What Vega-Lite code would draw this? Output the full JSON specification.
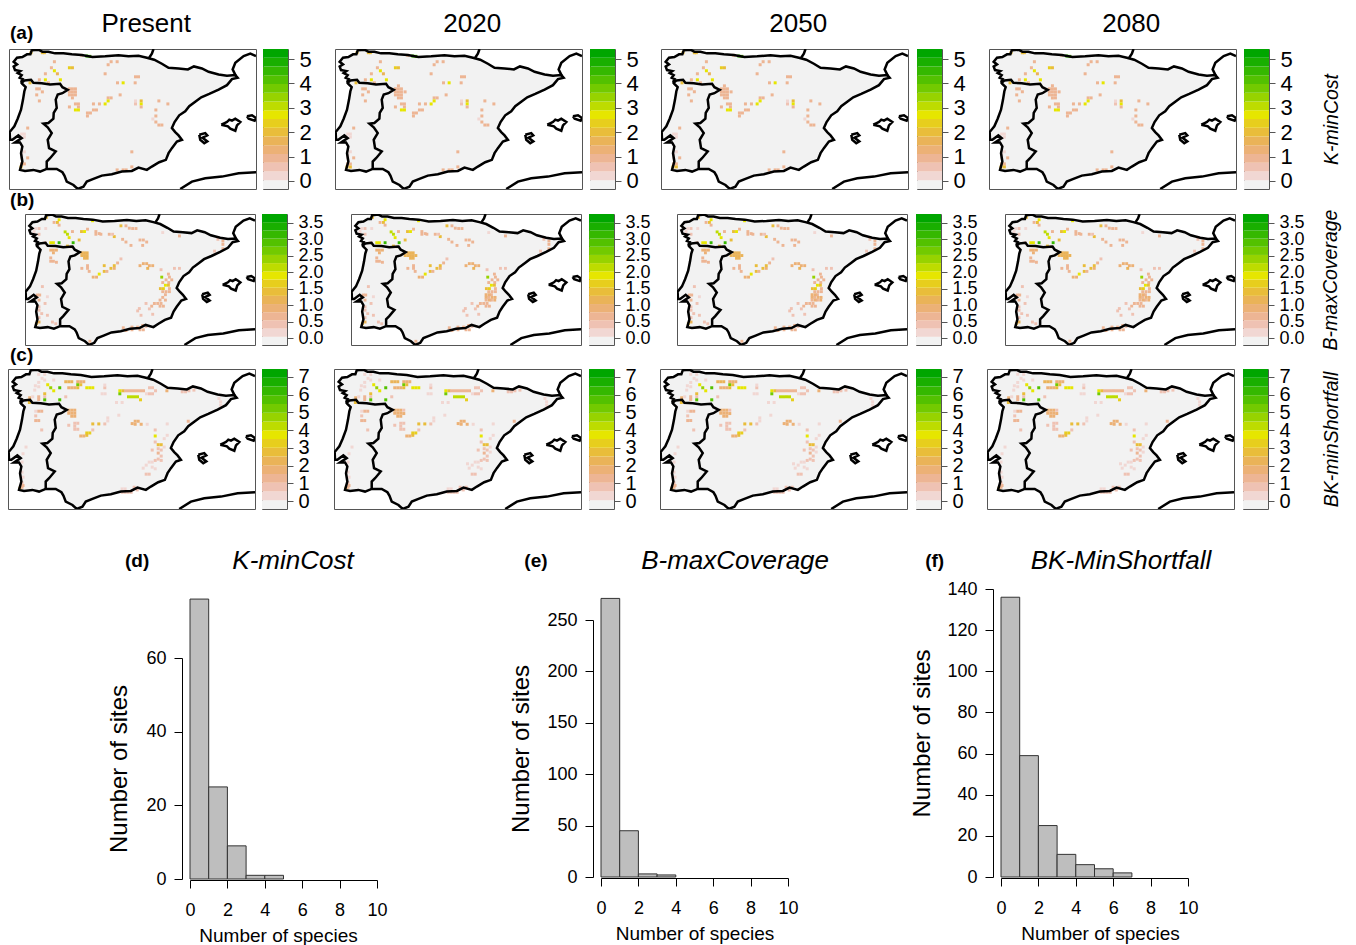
{"$schema":"https://vega.github.io/schema/vega-lite/v6.json","padding":{"left":4,"top":10,"right":0,"bottom":0},"background":"white","resolve":{"scale":{"color":"independent"}},"config":{"view":{"stroke":null},"axis":{"labelFont":"Liberation Sans","titleFont":"Liberation Sans","labelColor":"black","titleColor":"black","titleFontWeight":"normal","grid":false,"labelOverlap":false},"title":{"font":"Liberation Sans","fontWeight":"normal","color":"black","anchor":"middle"},"text":{"font":"Liberation Sans"}},
"datasets":{
"coast":[
{"s":"main","i":0,"x":48,"y":113},{"s":"main","i":1,"x":53,"y":104},{"s":"main","i":2,"x":44,"y":100},{"s":"main","i":3,"x":50,"y":92},{"s":"main","i":4,"x":38,"y":86},{"s":"main","i":5,"x":46,"y":80},{"s":"main","i":6,"x":30,"y":77},{"s":"main","i":7,"x":26,"y":66},{"s":"main","i":8,"x":36,"y":60},{"s":"main","i":9,"x":26,"y":52},{"s":"main","i":10,"x":36,"y":40},{"s":"main","i":11,"x":52,"y":38},{"s":"main","i":12,"x":66,"y":30},{"s":"main","i":13,"x":76,"y":30},{"s":"main","i":14,"x":80,"y":18},{"s":"main","i":15,"x":100,"y":16},{"s":"main","i":16,"x":112,"y":22},{"s":"main","i":17,"x":130,"y":22},{"s":"main","i":18,"x":150,"y":27},{"s":"main","i":19,"x":175,"y":27},{"s":"main","i":20,"x":200,"y":30},{"s":"main","i":21,"x":230,"y":32},{"s":"main","i":22,"x":262,"y":38},{"s":"main","i":23,"x":300,"y":36},{"s":"main","i":24,"x":340,"y":33},{"s":"main","i":25,"x":370,"y":36},{"s":"main","i":26,"x":400,"y":34},{"s":"main","i":27,"x":425,"y":40},{"s":"main","i":28,"x":447,"y":46},{"s":"main","i":29,"x":470,"y":58},{"s":"main","i":30,"x":490,"y":70},{"s":"main","i":31,"x":520,"y":72},{"s":"main","i":32,"x":548,"y":75},{"s":"main","i":33,"x":566,"y":66},{"s":"main","i":34,"x":590,"y":72},{"s":"main","i":35,"x":610,"y":82},{"s":"main","i":36,"x":640,"y":90},{"s":"main","i":37,"x":665,"y":94},{"s":"main","i":38,"x":690,"y":92},{"s":"main","i":39,"x":697,"y":100},{"s":"main","i":40,"x":680,"y":104},{"s":"main","i":41,"x":665,"y":122},{"s":"main","i":42,"x":640,"y":135},{"s":"main","i":43,"x":612,"y":148},{"s":"main","i":44,"x":588,"y":158},{"s":"main","i":45,"x":572,"y":170},{"s":"main","i":46,"x":552,"y":185},{"s":"main","i":47,"x":540,"y":200},{"s":"main","i":48,"x":522,"y":212},{"s":"main","i":49,"x":508,"y":232},{"s":"main","i":50,"x":500,"y":250},{"s":"main","i":51,"x":510,"y":262},{"s":"main","i":52,"x":520,"y":272},{"s":"main","i":53,"x":530,"y":285},{"s":"main","i":54,"x":515,"y":290},{"s":"main","i":55,"x":500,"y":310},{"s":"main","i":56,"x":490,"y":325},{"s":"main","i":57,"x":482,"y":345},{"s":"main","i":58,"x":462,"y":352},{"s":"main","i":59,"x":440,"y":365},{"s":"main","i":60,"x":425,"y":375},{"s":"main","i":61,"x":400,"y":368},{"s":"main","i":62,"x":380,"y":378},{"s":"main","i":63,"x":350,"y":380},{"s":"main","i":64,"x":320,"y":388},{"s":"main","i":65,"x":290,"y":392},{"s":"main","i":66,"x":265,"y":402},{"s":"main","i":67,"x":245,"y":410},{"s":"main","i":68,"x":235,"y":425},{"s":"main","i":69,"x":218,"y":432},{"s":"main","i":70,"x":205,"y":420},{"s":"main","i":71,"x":185,"y":410},{"s":"main","i":72,"x":178,"y":392},{"s":"main","i":73,"x":172,"y":382},{"s":"main","i":74,"x":155,"y":372},{"s":"main","i":75,"x":125,"y":372},{"s":"main","i":76,"x":105,"y":380},{"s":"main","i":77,"x":85,"y":375},{"s":"main","i":78,"x":60,"y":378},{"s":"main","i":79,"x":45,"y":375},{"s":"main","i":80,"x":52,"y":350},{"s":"main","i":81,"x":48,"y":325},{"s":"main","i":82,"x":52,"y":305},{"s":"main","i":83,"x":45,"y":293},{"s":"main","i":84,"x":30,"y":293},{"s":"main","i":85,"x":50,"y":280},{"s":"main","i":86,"x":40,"y":272},{"s":"main","i":87,"x":22,"y":285},{"s":"main","i":88,"x":15,"y":285},{"s":"main","i":89,"x":14,"y":262},{"s":"main","i":90,"x":28,"y":245},{"s":"main","i":91,"x":38,"y":222},{"s":"main","i":92,"x":48,"y":195},{"s":"main","i":93,"x":54,"y":165},{"s":"main","i":94,"x":58,"y":140},{"s":"main","i":95,"x":62,"y":128},{"s":"main","i":96,"x":52,"y":118},{"s":"main","i":97,"x":48,"y":113},
{"s":"border","i":0,"x":48,"y":116},{"s":"border","i":1,"x":58,"y":108},{"s":"border","i":2,"x":78,"y":106},{"s":"border","i":3,"x":85,"y":115},{"s":"border","i":4,"x":110,"y":116},{"s":"border","i":5,"x":135,"y":120},{"s":"border","i":6,"x":165,"y":118},{"s":"border","i":7,"x":172,"y":128},{"s":"border","i":8,"x":188,"y":136},{"s":"border","i":9,"x":172,"y":146},{"s":"border","i":10,"x":158,"y":150},{"s":"border","i":11,"x":152,"y":165},{"s":"border","i":12,"x":155,"y":190},{"s":"border","i":13,"x":146,"y":205},{"s":"border","i":14,"x":145,"y":222},{"s":"border","i":15,"x":130,"y":235},{"s":"border","i":16,"x":115,"y":237},{"s":"border","i":17,"x":128,"y":248},{"s":"border","i":18,"x":140,"y":265},{"s":"border","i":19,"x":128,"y":285},{"s":"border","i":20,"x":132,"y":310},{"s":"border","i":21,"x":152,"y":320},{"s":"border","i":22,"x":135,"y":340},{"s":"border","i":23,"x":125,"y":350},{"s":"border","i":24,"x":125,"y":372},
{"s":"fw","i":0,"x":432,"y":40},{"s":"fw","i":1,"x":440,"y":28},{"s":"fw","i":2,"x":445,"y":14},
{"s":"fe","i":0,"x":692,"y":95},{"s":"fe","i":1,"x":682,"y":75},{"s":"fe","i":2,"x":690,"y":55},{"s":"fe","i":3,"x":715,"y":35},{"s":"fe","i":4,"x":735,"y":28},{"s":"fe","i":5,"x":752,"y":35},
{"s":"af","i":0,"x":525,"y":432},{"s":"af","i":1,"x":560,"y":410},{"s":"af","i":2,"x":600,"y":400},{"s":"af","i":3,"x":650,"y":395},{"s":"af","i":4,"x":700,"y":385},{"s":"af","i":5,"x":752,"y":382},
{"s":"ma","i":0,"x":648,"y":240},{"s":"ma","i":1,"x":658,"y":235},{"s":"ma","i":2,"x":665,"y":232},{"s":"ma","i":3,"x":672,"y":225},{"s":"ma","i":4,"x":680,"y":228},{"s":"ma","i":5,"x":690,"y":222},{"s":"ma","i":6,"x":705,"y":232},{"s":"ma","i":7,"x":695,"y":242},{"s":"ma","i":8,"x":690,"y":258},{"s":"ma","i":9,"x":675,"y":252},{"s":"ma","i":10,"x":668,"y":245},{"s":"ma","i":11,"x":648,"y":240},
{"s":"me","i":0,"x":725,"y":215},{"s":"me","i":1,"x":740,"y":212},{"s":"me","i":2,"x":752,"y":220},{"s":"me","i":3,"x":748,"y":228},{"s":"me","i":4,"x":730,"y":222},{"s":"me","i":5,"x":725,"y":215},
{"s":"ib","i":0,"x":582,"y":270},{"s":"ib","i":1,"x":600,"y":265},{"s":"ib","i":2,"x":606,"y":272},{"s":"ib","i":3,"x":592,"y":279},{"s":"ib","i":4,"x":606,"y":290},{"s":"ib","i":5,"x":597,"y":295},{"s":"ib","i":6,"x":585,"y":285},{"s":"ib","i":7,"x":582,"y":270}
],
"ca":[
{"x":78,"y":25,"v":2},{"x":118,"y":25,"v":2},{"x":112,"y":25,"v":2},{"x":230,"y":33,"v":1},{"x":245,"y":35,"v":4.5},{"x":254,"y":36,"v":4},{"x":148,"y":52,"v":1},{"x":318,"y":52,"v":1},{"x":336,"y":52,"v":1},{"x":309,"y":61,"v":1},{"x":139,"y":70,"v":1},{"x":193,"y":70,"v":2.2},{"x":202,"y":70,"v":2},{"x":148,"y":79,"v":2.7},{"x":157,"y":88,"v":1.5},{"x":121,"y":88,"v":1},{"x":300,"y":88,"v":1},{"x":391,"y":97,"v":1},{"x":400,"y":97,"v":1},{"x":103,"y":106,"v":1},{"x":121,"y":106,"v":2.7},{"x":166,"y":106,"v":2.7},{"x":130,"y":115,"v":1},{"x":75,"y":115,"v":2},{"x":337,"y":115,"v":1},{"x":354,"y":115,"v":2.7},{"x":390,"y":115,"v":1},{"x":193,"y":133,"v":1},{"x":202,"y":133,"v":1},{"x":211,"y":133,"v":1},{"x":193,"y":142,"v":1},{"x":202,"y":142,"v":1},{"x":211,"y":142,"v":1},{"x":193,"y":151,"v":1},{"x":202,"y":151,"v":1},{"x":211,"y":151,"v":1},{"x":202,"y":160,"v":1},{"x":95,"y":133,"v":1},{"x":103,"y":133,"v":1},{"x":112,"y":142,"v":1},{"x":95,"y":151,"v":1},{"x":103,"y":169,"v":1},{"x":345,"y":151,"v":1},{"x":318,"y":160,"v":1},{"x":309,"y":160,"v":1},{"x":309,"y":169,"v":2.7},{"x":300,"y":178,"v":2.7},{"x":283,"y":178,"v":1},{"x":265,"y":178,"v":1},{"x":391,"y":169,"v":0.3},{"x":391,"y":178,"v":0.5},{"x":408,"y":169,"v":2},{"x":408,"y":178,"v":2.7},{"x":408,"y":187,"v":1},{"x":461,"y":169,"v":1},{"x":488,"y":178,"v":1},{"x":211,"y":178,"v":1},{"x":220,"y":178,"v":1},{"x":220,"y":187,"v":1},{"x":193,"y":187,"v":1},{"x":211,"y":196,"v":2.7},{"x":220,"y":196,"v":2.7},{"x":265,"y":196,"v":1},{"x":274,"y":196,"v":1},{"x":256,"y":205,"v":1},{"x":247,"y":205,"v":1},{"x":247,"y":214,"v":1},{"x":452,"y":196,"v":1},{"x":452,"y":214,"v":1},{"x":443,"y":223,"v":0.3},{"x":452,"y":232,"v":1},{"x":461,"y":241,"v":1},{"x":470,"y":241,"v":1},{"x":68,"y":250,"v":1},{"x":58,"y":268,"v":0.3},{"x":50,"y":268,"v":0.3},{"x":58,"y":277,"v":0.3},{"x":380,"y":321,"v":1},{"x":58,"y":321,"v":0.3},{"x":50,"y":330,"v":0.3},{"x":68,"y":339,"v":1},{"x":50,"y":339,"v":0.3},{"x":58,"y":357,"v":1},{"x":50,"y":357,"v":1},{"x":48,"y":366,"v":2},{"x":380,"y":366,"v":1},{"x":336,"y":375,"v":1},{"x":354,"y":375,"v":1},{"x":363,"y":375,"v":1},{"x":222,"y":142,"v":1,"p":"123"},{"x":202,"y":124,"v":1,"p":"123"},{"x":58,"y":366,"v":2,"p":"123"},{"x":211,"y":160,"v":1,"p":"123"}
],
"cb":[
{"x":122,"y":85,"v":1.4},{"x":160,"y":92,"v":1.9},{"x":155,"y":100,"v":1.4},{"x":145,"y":100,"v":0.6},{"x":160,"y":108,"v":0.6},{"x":260,"y":95,"v":1.9},{"x":90,"y":118,"v":0.2},{"x":100,"y":118,"v":0.3},{"x":85,"y":127,"v":0.2},{"x":100,"y":135,"v":0.3},{"x":120,"y":118,"v":0.2},{"x":178,"y":128,"v":2.2},{"x":185,"y":135,"v":2.2},{"x":190,"y":145,"v":1.9},{"x":227,"y":127,"v":1.5},{"x":236,"y":127,"v":1.9},{"x":245,"y":120,"v":0.6},{"x":200,"y":127,"v":0.6},{"x":345,"y":110,"v":1.5},{"x":360,"y":110,"v":0.6},{"x":370,"y":117,"v":0.6},{"x":380,"y":118,"v":0.6},{"x":390,"y":118,"v":0.6},{"x":270,"y":127,"v":0.7},{"x":280,"y":133,"v":0.7},{"x":270,"y":135,"v":0.7},{"x":285,"y":135,"v":0.7},{"x":325,"y":142,"v":1.4},{"x":310,"y":135,"v":0.6},{"x":320,"y":135,"v":0.4},{"x":350,"y":150,"v":0.6},{"x":360,"y":158,"v":0.6},{"x":375,"y":168,"v":0.6},{"x":402,"y":152,"v":0.6},{"x":412,"y":152,"v":0.6},{"x":422,"y":158,"v":0.6},{"x":410,"y":168,"v":0.6},{"x":470,"y":130,"v":0.2},{"x":520,"y":140,"v":0.6},{"x":650,"y":155,"v":0.6},{"x":650,"y":165,"v":0.6},{"x":650,"y":178,"v":0.6},{"x":625,"y":185,"v":0.3},{"x":635,"y":150,"v":0.3},{"x":135,"y":160,"v":1.9},{"x":143,"y":160,"v":1.9},{"x":160,"y":160,"v":3.2},{"x":202,"y":160,"v":3.2},{"x":185,"y":170,"v":1.5},{"x":195,"y":172,"v":0.6},{"x":220,"y":152,"v":1.4},{"x":118,"y":160,"v":0.3},{"x":135,"y":182,"v":0.9},{"x":143,"y":182,"v":0.9},{"x":152,"y":182,"v":0.9},{"x":143,"y":190,"v":0.9},{"x":135,"y":205,"v":0.7},{"x":143,"y":215,"v":0.7},{"x":135,"y":215,"v":0.7},{"x":152,"y":218,"v":0.7},{"x":228,"y":190,"v":1.1},{"x":236,"y":190,"v":1.1},{"x":244,"y":190,"v":1.1},{"x":228,"y":198,"v":1.1},{"x":236,"y":198,"v":1.1},{"x":244,"y":198,"v":1.1},{"x":236,"y":206,"v":1.1},{"x":244,"y":206,"v":1.1},{"x":228,"y":236,"v":0.7},{"x":245,"y":228,"v":0.6},{"x":245,"y":236,"v":0.6},{"x":250,"y":245,"v":0.7},{"x":295,"y":228,"v":1.4},{"x":325,"y":228,"v":1.5},{"x":315,"y":236,"v":1.5},{"x":325,"y":236,"v":0.9},{"x":335,"y":220,"v":0.6},{"x":295,"y":245,"v":1.4},{"x":303,"y":245,"v":0.7},{"x":280,"y":253,"v":1.9},{"x":272,"y":262,"v":0.9},{"x":262,"y":262,"v":0.9},{"x":345,"y":208,"v":0.4},{"x":402,"y":228,"v":0.9},{"x":412,"y":222,"v":0.9},{"x":422,"y":222,"v":0.9},{"x":430,"y":228,"v":0.9},{"x":425,"y":236,"v":1.2},{"x":440,"y":228,"v":0.9},{"x":505,"y":236,"v":0.3},{"x":520,"y":236,"v":0.3},{"x":465,"y":240,"v":0.5},{"x":467,"y":262,"v":2.3},{"x":487,"y":253,"v":0.7},{"x":490,"y":262,"v":0.7},{"x":480,"y":270,"v":0.7},{"x":497,"y":270,"v":0.7},{"x":470,"y":278,"v":0.7},{"x":488,"y":278,"v":0.7},{"x":478,"y":286,"v":1.9},{"x":487,"y":286,"v":1.5},{"x":463,"y":296,"v":1.5},{"x":472,"y":296,"v":1.7},{"x":490,"y":296,"v":0.7},{"x":470,"y":305,"v":0.7},{"x":480,"y":305,"v":0.7},{"x":490,"y":305,"v":0.7},{"x":478,"y":314,"v":0.7},{"x":470,"y":322,"v":0.7},{"x":462,"y":330,"v":0.7},{"x":478,"y":330,"v":0.7},{"x":445,"y":340,"v":0.7},{"x":455,"y":340,"v":0.7},{"x":465,"y":340,"v":0.7},{"x":437,"y":348,"v":0.7},{"x":472,"y":348,"v":0.7},{"x":462,"y":348,"v":0.7},{"x":430,"y":356,"v":0.3},{"x":420,"y":340,"v":0.3},{"x":400,"y":355,"v":0.3},{"x":395,"y":362,"v":0.3},{"x":440,"y":372,"v":0.5},{"x":405,"y":375,"v":0.3},{"x":410,"y":405,"v":0.7},{"x":395,"y":410,"v":0.7},{"x":378,"y":410,"v":0.6},{"x":352,"y":412,"v":0.6},{"x":360,"y":420,"v":0.6},{"x":378,"y":418,"v":0.6},{"x":402,"y":418,"v":0.6},{"x":412,"y":418,"v":0.6},{"x":420,"y":408,"v":0.4},{"x":252,"y":452,"v":0.6},{"x":110,"y":290,"v":0.5},{"x":95,"y":315,"v":0.6},{"x":102,"y":315,"v":0.6},{"x":100,"y":330,"v":0.6},{"x":125,"y":320,"v":0.2},{"x":118,"y":340,"v":0.3},{"x":100,"y":350,"v":0.4},{"x":100,"y":360,"v":0.4},{"x":108,"y":370,"v":0.5},{"x":125,"y":375,"v":0.5},{"x":140,"y":395,"v":0.4},{"x":100,"y":382,"v":0.3},{"x":92,"y":400,"v":1.4},{"x":100,"y":395,"v":1.2},{"x":150,"y":400,"v":0.3},{"x":462,"y":314,"v":0.9,"p":"123"},{"x":471,"y":314,"v":0.9,"p":"123"},{"x":480,"y":322,"v":0.9,"p":"123"},{"x":462,"y":322,"v":0.9,"p":"123"},{"x":471,"y":330,"v":0.9,"p":"123"},{"x":489,"y":322,"v":0.9,"p":"123"},{"x":488,"y":330,"v":0.9,"p":"123"},{"x":220,"y":198,"v":1.1,"p":"123"},{"x":252,"y":198,"v":1.1,"p":"123"}
],
"cc":[
{"x":100,"y":88,"v":0.3},{"x":118,"y":88,"v":0.3},{"x":110,"y":100,"v":0.3},{"x":100,"y":112,"v":0.3},{"x":90,"y":122,"v":0.3},{"x":100,"y":125,"v":0.3},{"x":88,"y":135,"v":0.3},{"x":118,"y":105,"v":0.3},{"x":145,"y":105,"v":0.3},{"x":181,"y":110,"v":2.4},{"x":190,"y":110,"v":2.4},{"x":199,"y":110,"v":2.4},{"x":217,"y":110,"v":1.8},{"x":226,"y":110,"v":1.8},{"x":235,"y":110,"v":1.8},{"x":217,"y":119,"v":5.2},{"x":226,"y":119,"v":3},{"x":127,"y":119,"v":3.7},{"x":136,"y":128,"v":4.7},{"x":163,"y":128,"v":5.5},{"x":145,"y":137,"v":3.7},{"x":190,"y":128,"v":1.9},{"x":199,"y":128,"v":1.9},{"x":208,"y":128,"v":1.9},{"x":217,"y":128,"v":2.6},{"x":244,"y":128,"v":3.7},{"x":253,"y":128,"v":3.7},{"x":262,"y":128,"v":3.7},{"x":298,"y":128,"v":0.9},{"x":298,"y":120,"v":0.5},{"x":118,"y":146,"v":2.7},{"x":100,"y":155,"v":1.3},{"x":73,"y":158,"v":1.9},{"x":118,"y":155,"v":0.9},{"x":82,"y":155,"v":0.5},{"x":100,"y":163,"v":1.3},{"x":118,"y":164,"v":5.5},{"x":163,"y":164,"v":5.5},{"x":72,"y":172,"v":2.7},{"x":181,"y":155,"v":0.9},{"x":290,"y":146,"v":0.4},{"x":299,"y":146,"v":0.4},{"x":343,"y":137,"v":3.8},{"x":352,"y":137,"v":3},{"x":343,"y":146,"v":5},{"x":360,"y":137,"v":1.2},{"x":369,"y":137,"v":1.2},{"x":378,"y":137,"v":1.2},{"x":387,"y":137,"v":1.2},{"x":396,"y":137,"v":1.2},{"x":405,"y":137,"v":1.2},{"x":414,"y":137,"v":1.2},{"x":432,"y":128,"v":0.9},{"x":441,"y":128,"v":0.9},{"x":450,"y":137,"v":1},{"x":432,"y":146,"v":0.7},{"x":441,"y":146,"v":0.7},{"x":423,"y":146,"v":0.4},{"x":369,"y":155,"v":4},{"x":378,"y":155,"v":4.2},{"x":387,"y":155,"v":4.2},{"x":396,"y":155,"v":4.2},{"x":405,"y":164,"v":3.3},{"x":484,"y":137,"v":2},{"x":530,"y":140,"v":0.8},{"x":540,"y":140,"v":0.8},{"x":550,"y":137,"v":0.6},{"x":565,"y":135,"v":1},{"x":640,"y":160,"v":0.3},{"x":645,"y":170,"v":0.3},{"x":645,"y":180,"v":0.3},{"x":333,"y":172,"v":0.4},{"x":350,"y":172,"v":0.4},{"x":190,"y":195,"v":1.7},{"x":199,"y":195,"v":1.7},{"x":208,"y":195,"v":1.7},{"x":190,"y":204,"v":1.7},{"x":199,"y":204,"v":1.7},{"x":208,"y":204,"v":1.7},{"x":199,"y":213,"v":1.7},{"x":208,"y":213,"v":1.7},{"x":100,"y":198,"v":1.2},{"x":109,"y":198,"v":1.2},{"x":91,"y":198,"v":0.5},{"x":91,"y":212,"v":0.7},{"x":91,"y":226,"v":1.3},{"x":100,"y":226,"v":1.3},{"x":190,"y":240,"v":0.7},{"x":109,"y":254,"v":1},{"x":208,"y":234,"v":1},{"x":217,"y":234,"v":1},{"x":208,"y":243,"v":1},{"x":217,"y":252,"v":1},{"x":208,"y":252,"v":1},{"x":262,"y":236,"v":2.9},{"x":280,"y":236,"v":2.9},{"x":298,"y":236,"v":1},{"x":307,"y":227,"v":0.4},{"x":307,"y":218,"v":0.3},{"x":340,"y":210,"v":0.3},{"x":262,"y":254,"v":1},{"x":244,"y":263,"v":3.2},{"x":253,"y":263,"v":3.2},{"x":244,"y":270,"v":2.7},{"x":226,"y":272,"v":1.7},{"x":235,"y":272,"v":1.7},{"x":380,"y":235,"v":1.7},{"x":389,"y":228,"v":1.7},{"x":398,"y":228,"v":1.7},{"x":407,"y":237,"v":1.7},{"x":389,"y":237,"v":1.7},{"x":425,"y":237,"v":0.4},{"x":485,"y":236,"v":0.3},{"x":548,"y":228,"v":1.2},{"x":449,"y":254,"v":1},{"x":449,"y":272,"v":3.7},{"x":476,"y":280,"v":0.3},{"x":485,"y":270,"v":0.3},{"x":449,"y":290,"v":0.7},{"x":458,"y":298,"v":2.9},{"x":467,"y":298,"v":2.9},{"x":476,"y":305,"v":0.3},{"x":440,"y":314,"v":1},{"x":458,"y":310,"v":1},{"x":467,"y":314,"v":1},{"x":458,"y":323,"v":1.2},{"x":467,"y":332,"v":1},{"x":458,"y":341,"v":1},{"x":449,"y":345,"v":0.7},{"x":440,"y":350,"v":0.5},{"x":431,"y":350,"v":0.5},{"x":422,"y":359,"v":0.5},{"x":413,"y":368,"v":0.5},{"x":422,"y":386,"v":1},{"x":431,"y":386,"v":1},{"x":449,"y":370,"v":0.3},{"x":467,"y":345,"v":1},{"x":440,"y":365,"v":0.4},{"x":62,"y":305,"v":0.3},{"x":53,"y":325,"v":0.3},{"x":50,"y":350,"v":0.3},{"x":50,"y":380,"v":0.3},{"x":53,"y":395,"v":0.3},{"x":50,"y":412,"v":1},{"x":53,"y":420,"v":1.3},{"x":44,"y":428,"v":3},{"x":50,"y":425,"v":1.5},{"x":350,"y":440,"v":1},{"x":359,"y":440,"v":1},{"x":368,"y":440,"v":1},{"x":377,"y":440,"v":1},{"x":359,"y":430,"v":0.3},{"x":386,"y":425,"v":1},{"x":395,"y":433,"v":1},{"x":350,"y":430,"v":0.3},{"x":217,"y":205,"v":1.7,"p":"123"},{"x":217,"y":195,"v":0.9,"p":"123"},{"x":408,"y":355,"v":0.5,"p":"123"},{"x":395,"y":430,"v":0.7,"p":"123"},{"x":404,"y":425,"v":0.7,"p":"123"},{"x":476,"y":320,"v":0.5,"p":"123"}
],
"ba":[{"lo":-0.33,"hi":0.029},{"lo":0.029,"hi":0.388},{"lo":0.388,"hi":0.746},{"lo":0.746,"hi":1.105},{"lo":1.105,"hi":1.464},{"lo":1.464,"hi":1.823},{"lo":1.823,"hi":2.181},{"lo":2.181,"hi":2.54},{"lo":2.54,"hi":2.899},{"lo":2.899,"hi":3.258},{"lo":3.258,"hi":3.616},{"lo":3.616,"hi":3.975},{"lo":3.975,"hi":4.334},{"lo":4.334,"hi":4.693},{"lo":4.693,"hi":5.051},{"lo":5.051,"hi":5.41}],
"bb":[{"lo":-0.21,"hi":0.039},{"lo":0.039,"hi":0.288},{"lo":0.288,"hi":0.536},{"lo":0.536,"hi":0.785},{"lo":0.785,"hi":1.034},{"lo":1.034,"hi":1.283},{"lo":1.283,"hi":1.531},{"lo":1.531,"hi":1.78},{"lo":1.78,"hi":2.029},{"lo":2.029,"hi":2.278},{"lo":2.278,"hi":2.526},{"lo":2.526,"hi":2.775},{"lo":2.775,"hi":3.024},{"lo":3.024,"hi":3.273},{"lo":3.273,"hi":3.521},{"lo":3.521,"hi":3.77}],
"bc":[{"lo":-0.45,"hi":0.044},{"lo":0.044,"hi":0.538},{"lo":0.538,"hi":1.031},{"lo":1.031,"hi":1.525},{"lo":1.525,"hi":2.019},{"lo":2.019,"hi":2.513},{"lo":2.513,"hi":3.006},{"lo":3.006,"hi":3.5},{"lo":3.5,"hi":3.994},{"lo":3.994,"hi":4.488},{"lo":4.488,"hi":4.981},{"lo":4.981,"hi":5.475},{"lo":5.475,"hi":5.969},{"lo":5.969,"hi":6.463},{"lo":6.463,"hi":6.956},{"lo":6.956,"hi":7.45}],
"hd":[{"lo":0,"hi":1,"n":76},{"lo":1,"hi":2,"n":25},{"lo":2,"hi":3,"n":9},{"lo":3,"hi":4,"n":1},{"lo":4,"hi":5,"n":1}],
"he":[{"lo":0,"hi":1,"n":271},{"lo":1,"hi":2,"n":45},{"lo":2,"hi":3,"n":3},{"lo":3,"hi":4,"n":2}],
"hf":[{"lo":0,"hi":1,"n":136},{"lo":1,"hi":2,"n":59},{"lo":2,"hi":3,"n":25},{"lo":3,"hi":4,"n":11},{"lo":4,"hi":5,"n":6},{"lo":5,"hi":6,"n":4},{"lo":6,"hi":7,"n":2}]
},
"spacing":0,
"vconcat":[
{"spacing":-6,"resolve":{"scale":{"color":"independent"}},"vconcat":[
{"spacing":-3,"resolve":{"scale":{"color":"independent"}},"vconcat":[
{"spacing":0,"bounds":"flush","hconcat":[
{"width":2,"height":1,"data":{"values":[{}]},"mark":{"type":"point","opacity":0},"encoding":{}},
{"view":{"stroke":"#555"},"width":247,"height":140,"resolve":{"scale":{"x":"independent","y":"independent"}},"encoding":{"x":{"field":"x","type":"quantitative","scale":{"domain":[12,752],"nice":false},"axis":null},"y":{"field":"y","type":"quantitative","scale":{"domain":[432,14],"nice":false},"axis":null}},"layer":[{"data":{"name":"coast"},"transform":[{"filter":"datum.s=='main'"}],"mark":{"type":"line","fill":"#f2f2f2","stroke":null},"encoding":{"order":{"field":"i"}}},{"data":{"name":"ca"},"transform":[{"filter":"!datum.p||indexof(datum.p,'0')>=0"}],"mark":{"type":"rect","width":3,"height":3},"encoding":{"color":{"field":"v","type":"quantitative","legend":null,"scale":{"type":"threshold","domain":[0.029,0.388,0.746,1.105,1.464,1.823,2.181,2.54,2.899,3.258,3.616,3.975,4.334,4.693,5.051],"range":["#F2F2F2","#F1D7D3","#EFC2B3","#EDB594","#ECB176","#EAB358","#E9BD3A","#E7CE1D","#E6E600","#BDDC00","#97D300","#73CA00","#53C100","#35B800","#19AF00","#00A600"]}}}},{"data":{"name":"coast"},"mark":{"type":"line","color":"black","strokeWidth":2.5,"clip":true},"encoding":{"detail":{"field":"s"},"order":{"field":"i"}}},{"data":{"values":[{"x":15,"y":-34,"t":"(a)"}]},"mark":{"type":"text","fontSize":19,"fontWeight":"bold","align":"left","baseline":"middle"},"encoding":{"text":{"field":"t"}}},{"data":{"values":[{"x":423,"y":-61,"t":"Present"}]},"mark":{"type":"text","fontSize":26,"baseline":"middle"},"encoding":{"text":{"field":"t"}}}]},
{"width":7,"height":1,"data":{"values":[{}]},"mark":{"type":"point","opacity":0},"encoding":{}},
{"view":{"stroke":"#555"},"width":25,"height":140,"data":{"name":"ba"},"mark":"rect","encoding":{"y":{"field":"lo","type":"quantitative","scale":{"domain":[-0.33,5.41],"nice":false},"axis":{"orient":"right","values":[0,1,2,3,4,5],"domain":false,"tickSize":6,"tickColor":"#555","labelFontSize":22,"labelPadding":5,"title":null}},"y2":{"field":"hi"},"color":{"field":"lo","type":"quantitative","legend":null,"scale":{"type":"threshold","domain":[0.029,0.388,0.746,1.105,1.464,1.823,2.181,2.54,2.899,3.258,3.616,3.975,4.334,4.693,5.051],"range":["#F2F2F2","#F1D7D3","#EFC2B3","#EDB594","#ECB176","#EAB358","#E9BD3A","#E7CE1D","#E6E600","#BDDC00","#97D300","#73CA00","#53C100","#35B800","#19AF00","#00A600"]}}}},
{"width":47,"height":1,"data":{"values":[{}]},"mark":{"type":"point","opacity":0},"encoding":{}},
{"view":{"stroke":"#555"},"width":247,"height":140,"resolve":{"scale":{"x":"independent","y":"independent"}},"encoding":{"x":{"field":"x","type":"quantitative","scale":{"domain":[12,752],"nice":false},"axis":null},"y":{"field":"y","type":"quantitative","scale":{"domain":[432,14],"nice":false},"axis":null}},"layer":[{"data":{"name":"coast"},"transform":[{"filter":"datum.s=='main'"}],"mark":{"type":"line","fill":"#f2f2f2","stroke":null},"encoding":{"order":{"field":"i"}}},{"data":{"name":"ca"},"transform":[{"filter":"!datum.p||indexof(datum.p,'1')>=0"}],"mark":{"type":"rect","width":3,"height":3},"encoding":{"color":{"field":"v","type":"quantitative","legend":null,"scale":{"type":"threshold","domain":[0.029,0.388,0.746,1.105,1.464,1.823,2.181,2.54,2.899,3.258,3.616,3.975,4.334,4.693,5.051],"range":["#F2F2F2","#F1D7D3","#EFC2B3","#EDB594","#ECB176","#EAB358","#E9BD3A","#E7CE1D","#E6E600","#BDDC00","#97D300","#73CA00","#53C100","#35B800","#19AF00","#00A600"]}}}},{"data":{"name":"coast"},"mark":{"type":"line","color":"black","strokeWidth":2.5,"clip":true},"encoding":{"detail":{"field":"s"},"order":{"field":"i"}}},{"data":{"values":[{"x":423,"y":-61,"t":"2020"}]},"mark":{"type":"text","fontSize":26,"baseline":"middle"},"encoding":{"text":{"field":"t"}}}]},
{"width":8,"height":1,"data":{"values":[{}]},"mark":{"type":"point","opacity":0},"encoding":{}},
{"view":{"stroke":"#555"},"width":25,"height":140,"data":{"name":"ba"},"mark":"rect","encoding":{"y":{"field":"lo","type":"quantitative","scale":{"domain":[-0.33,5.41],"nice":false},"axis":{"orient":"right","values":[0,1,2,3,4,5],"domain":false,"tickSize":6,"tickColor":"#555","labelFontSize":22,"labelPadding":5,"title":null}},"y2":{"field":"hi"},"color":{"field":"lo","type":"quantitative","legend":null,"scale":{"type":"threshold","domain":[0.029,0.388,0.746,1.105,1.464,1.823,2.181,2.54,2.899,3.258,3.616,3.975,4.334,4.693,5.051],"range":["#F2F2F2","#F1D7D3","#EFC2B3","#EDB594","#ECB176","#EAB358","#E9BD3A","#E7CE1D","#E6E600","#BDDC00","#97D300","#73CA00","#53C100","#35B800","#19AF00","#00A600"]}}}},
{"width":46,"height":1,"data":{"values":[{}]},"mark":{"type":"point","opacity":0},"encoding":{}},
{"view":{"stroke":"#555"},"width":247,"height":140,"resolve":{"scale":{"x":"independent","y":"independent"}},"encoding":{"x":{"field":"x","type":"quantitative","scale":{"domain":[12,752],"nice":false},"axis":null},"y":{"field":"y","type":"quantitative","scale":{"domain":[432,14],"nice":false},"axis":null}},"layer":[{"data":{"name":"coast"},"transform":[{"filter":"datum.s=='main'"}],"mark":{"type":"line","fill":"#f2f2f2","stroke":null},"encoding":{"order":{"field":"i"}}},{"data":{"name":"ca"},"transform":[{"filter":"!datum.p||indexof(datum.p,'2')>=0"}],"mark":{"type":"rect","width":3,"height":3},"encoding":{"color":{"field":"v","type":"quantitative","legend":null,"scale":{"type":"threshold","domain":[0.029,0.388,0.746,1.105,1.464,1.823,2.181,2.54,2.899,3.258,3.616,3.975,4.334,4.693,5.051],"range":["#F2F2F2","#F1D7D3","#EFC2B3","#EDB594","#ECB176","#EAB358","#E9BD3A","#E7CE1D","#E6E600","#BDDC00","#97D300","#73CA00","#53C100","#35B800","#19AF00","#00A600"]}}}},{"data":{"name":"coast"},"mark":{"type":"line","color":"black","strokeWidth":2.5,"clip":true},"encoding":{"detail":{"field":"s"},"order":{"field":"i"}}},{"data":{"values":[{"x":423,"y":-61,"t":"2050"}]},"mark":{"type":"text","fontSize":26,"baseline":"middle"},"encoding":{"text":{"field":"t"}}}]},
{"width":9,"height":1,"data":{"values":[{}]},"mark":{"type":"point","opacity":0},"encoding":{}},
{"view":{"stroke":"#555"},"width":25,"height":140,"data":{"name":"ba"},"mark":"rect","encoding":{"y":{"field":"lo","type":"quantitative","scale":{"domain":[-0.33,5.41],"nice":false},"axis":{"orient":"right","values":[0,1,2,3,4,5],"domain":false,"tickSize":6,"tickColor":"#555","labelFontSize":22,"labelPadding":5,"title":null}},"y2":{"field":"hi"},"color":{"field":"lo","type":"quantitative","legend":null,"scale":{"type":"threshold","domain":[0.029,0.388,0.746,1.105,1.464,1.823,2.181,2.54,2.899,3.258,3.616,3.975,4.334,4.693,5.051],"range":["#F2F2F2","#F1D7D3","#EFC2B3","#EDB594","#ECB176","#EAB358","#E9BD3A","#E7CE1D","#E6E600","#BDDC00","#97D300","#73CA00","#53C100","#35B800","#19AF00","#00A600"]}}}},
{"width":47,"height":1,"data":{"values":[{}]},"mark":{"type":"point","opacity":0},"encoding":{}},
{"view":{"stroke":"#555"},"width":247,"height":140,"resolve":{"scale":{"x":"independent","y":"independent"}},"encoding":{"x":{"field":"x","type":"quantitative","scale":{"domain":[12,752],"nice":false},"axis":null},"y":{"field":"y","type":"quantitative","scale":{"domain":[432,14],"nice":false},"axis":null}},"layer":[{"data":{"name":"coast"},"transform":[{"filter":"datum.s=='main'"}],"mark":{"type":"line","fill":"#f2f2f2","stroke":null},"encoding":{"order":{"field":"i"}}},{"data":{"name":"ca"},"transform":[{"filter":"!datum.p||indexof(datum.p,'3')>=0"}],"mark":{"type":"rect","width":3,"height":3},"encoding":{"color":{"field":"v","type":"quantitative","legend":null,"scale":{"type":"threshold","domain":[0.029,0.388,0.746,1.105,1.464,1.823,2.181,2.54,2.899,3.258,3.616,3.975,4.334,4.693,5.051],"range":["#F2F2F2","#F1D7D3","#EFC2B3","#EDB594","#ECB176","#EAB358","#E9BD3A","#E7CE1D","#E6E600","#BDDC00","#97D300","#73CA00","#53C100","#35B800","#19AF00","#00A600"]}}}},{"data":{"name":"coast"},"mark":{"type":"line","color":"black","strokeWidth":2.5,"clip":true},"encoding":{"detail":{"field":"s"},"order":{"field":"i"}}},{"data":{"values":[{"x":438,"y":-61,"t":"2080"}]},"mark":{"type":"text","fontSize":26,"baseline":"middle"},"encoding":{"text":{"field":"t"}}}]},
{"width":8,"height":1,"data":{"values":[{}]},"mark":{"type":"point","opacity":0},"encoding":{}},
{"view":{"stroke":"#555"},"width":25,"height":140,"data":{"name":"ba"},"mark":"rect","encoding":{"y":{"field":"lo","type":"quantitative","scale":{"domain":[-0.33,5.41],"nice":false},"axis":{"orient":"right","values":[0,1,2,3,4,5],"domain":false,"tickSize":6,"tickColor":"#555","labelFontSize":22,"labelPadding":5,"title":"K-minCost","titleFontSize":19.5,"titleFontStyle":"italic","titleAngle":270,"titlePadding":49}},"y2":{"field":"hi"},"color":{"field":"lo","type":"quantitative","legend":null,"scale":{"type":"threshold","domain":[0.029,0.388,0.746,1.105,1.464,1.823,2.181,2.54,2.899,3.258,3.616,3.975,4.334,4.693,5.051],"range":["#F2F2F2","#F1D7D3","#EFC2B3","#EDB594","#ECB176","#EAB358","#E9BD3A","#E7CE1D","#E6E600","#BDDC00","#97D300","#73CA00","#53C100","#35B800","#19AF00","#00A600"]}}}}
]},
{"spacing":0,"bounds":"flush","hconcat":[
{"width":18,"height":1,"data":{"values":[{}]},"mark":{"type":"point","opacity":0},"encoding":{}},
{"view":{"stroke":"#555"},"width":230,"height":131,"resolve":{"scale":{"x":"independent","y":"independent"}},"encoding":{"x":{"field":"x","type":"quantitative","scale":{"domain":[12,752],"nice":false},"axis":null},"y":{"field":"y","type":"quantitative","scale":{"domain":[432,14],"nice":false},"axis":null}},"layer":[{"data":{"name":"coast"},"transform":[{"filter":"datum.s=='main'"}],"mark":{"type":"line","fill":"#f2f2f2","stroke":null},"encoding":{"order":{"field":"i"}}},{"data":{"name":"cb"},"transform":[{"filter":"!datum.p||indexof(datum.p,'0')>=0"}],"mark":{"type":"rect","width":2.9,"height":2.9},"encoding":{"x":{"field":"x","type":"quantitative","scale":{"domain":[58,746],"nice":false},"axis":null},"y":{"field":"y","type":"quantitative","scale":{"domain":[463,75],"nice":false},"axis":null},"color":{"field":"v","type":"quantitative","legend":null,"scale":{"type":"threshold","domain":[0.039,0.288,0.536,0.785,1.034,1.283,1.531,1.78,2.029,2.278,2.526,2.775,3.024,3.273,3.521],"range":["#F2F2F2","#F1D7D3","#EFC2B3","#EDB594","#ECB176","#EAB358","#E9BD3A","#E7CE1D","#E6E600","#BDDC00","#97D300","#73CA00","#53C100","#35B800","#19AF00","#00A600"]}}}},{"data":{"name":"coast"},"mark":{"type":"line","color":"black","strokeWidth":2.5,"clip":true},"encoding":{"detail":{"field":"s"},"order":{"field":"i"}}},{"data":{"values":[{"x":-36,"y":-31,"t":"(b)"}]},"mark":{"type":"text","fontSize":19,"fontWeight":"bold","align":"left","baseline":"middle"},"encoding":{"text":{"field":"t"}}}]},
{"width":7,"height":1,"data":{"values":[{}]},"mark":{"type":"point","opacity":0},"encoding":{}},
{"view":{"stroke":"#555"},"width":25,"height":131,"data":{"name":"bb"},"mark":"rect","encoding":{"y":{"field":"lo","type":"quantitative","scale":{"domain":[-0.21,3.77],"nice":false},"axis":{"orient":"right","values":[0,0.5,1,1.5,2,2.5,3,3.5],"format":".1f","domain":false,"tickSize":6,"tickColor":"#555","labelFontSize":18,"labelPadding":5,"title":null}},"y2":{"field":"hi"},"color":{"field":"lo","type":"quantitative","legend":null,"scale":{"type":"threshold","domain":[0.039,0.288,0.536,0.785,1.034,1.283,1.531,1.78,2.029,2.278,2.526,2.775,3.024,3.273,3.521],"range":["#F2F2F2","#F1D7D3","#EFC2B3","#EDB594","#ECB176","#EAB358","#E9BD3A","#E7CE1D","#E6E600","#BDDC00","#97D300","#73CA00","#53C100","#35B800","#19AF00","#00A600"]}}}},
{"width":64,"height":1,"data":{"values":[{}]},"mark":{"type":"point","opacity":0},"encoding":{}},
{"view":{"stroke":"#555"},"width":230,"height":131,"resolve":{"scale":{"x":"independent","y":"independent"}},"encoding":{"x":{"field":"x","type":"quantitative","scale":{"domain":[12,752],"nice":false},"axis":null},"y":{"field":"y","type":"quantitative","scale":{"domain":[432,14],"nice":false},"axis":null}},"layer":[{"data":{"name":"coast"},"transform":[{"filter":"datum.s=='main'"}],"mark":{"type":"line","fill":"#f2f2f2","stroke":null},"encoding":{"order":{"field":"i"}}},{"data":{"name":"cb"},"transform":[{"filter":"!datum.p||indexof(datum.p,'1')>=0"}],"mark":{"type":"rect","width":2.9,"height":2.9},"encoding":{"x":{"field":"x","type":"quantitative","scale":{"domain":[58,746],"nice":false},"axis":null},"y":{"field":"y","type":"quantitative","scale":{"domain":[463,75],"nice":false},"axis":null},"color":{"field":"v","type":"quantitative","legend":null,"scale":{"type":"threshold","domain":[0.039,0.288,0.536,0.785,1.034,1.283,1.531,1.78,2.029,2.278,2.526,2.775,3.024,3.273,3.521],"range":["#F2F2F2","#F1D7D3","#EFC2B3","#EDB594","#ECB176","#EAB358","#E9BD3A","#E7CE1D","#E6E600","#BDDC00","#97D300","#73CA00","#53C100","#35B800","#19AF00","#00A600"]}}}},{"data":{"name":"coast"},"mark":{"type":"line","color":"black","strokeWidth":2.5,"clip":true},"encoding":{"detail":{"field":"s"},"order":{"field":"i"}}}]},
{"width":8,"height":1,"data":{"values":[{}]},"mark":{"type":"point","opacity":0},"encoding":{}},
{"view":{"stroke":"#555"},"width":25,"height":131,"data":{"name":"bb"},"mark":"rect","encoding":{"y":{"field":"lo","type":"quantitative","scale":{"domain":[-0.21,3.77],"nice":false},"axis":{"orient":"right","values":[0,0.5,1,1.5,2,2.5,3,3.5],"format":".1f","domain":false,"tickSize":6,"tickColor":"#555","labelFontSize":18,"labelPadding":5,"title":null}},"y2":{"field":"hi"},"color":{"field":"lo","type":"quantitative","legend":null,"scale":{"type":"threshold","domain":[0.039,0.288,0.536,0.785,1.034,1.283,1.531,1.78,2.029,2.278,2.526,2.775,3.024,3.273,3.521],"range":["#F2F2F2","#F1D7D3","#EFC2B3","#EDB594","#ECB176","#EAB358","#E9BD3A","#E7CE1D","#E6E600","#BDDC00","#97D300","#73CA00","#53C100","#35B800","#19AF00","#00A600"]}}}},
{"width":63,"height":1,"data":{"values":[{}]},"mark":{"type":"point","opacity":0},"encoding":{}},
{"view":{"stroke":"#555"},"width":230,"height":131,"resolve":{"scale":{"x":"independent","y":"independent"}},"encoding":{"x":{"field":"x","type":"quantitative","scale":{"domain":[12,752],"nice":false},"axis":null},"y":{"field":"y","type":"quantitative","scale":{"domain":[432,14],"nice":false},"axis":null}},"layer":[{"data":{"name":"coast"},"transform":[{"filter":"datum.s=='main'"}],"mark":{"type":"line","fill":"#f2f2f2","stroke":null},"encoding":{"order":{"field":"i"}}},{"data":{"name":"cb"},"transform":[{"filter":"!datum.p||indexof(datum.p,'2')>=0"}],"mark":{"type":"rect","width":2.9,"height":2.9},"encoding":{"x":{"field":"x","type":"quantitative","scale":{"domain":[58,746],"nice":false},"axis":null},"y":{"field":"y","type":"quantitative","scale":{"domain":[463,75],"nice":false},"axis":null},"color":{"field":"v","type":"quantitative","legend":null,"scale":{"type":"threshold","domain":[0.039,0.288,0.536,0.785,1.034,1.283,1.531,1.78,2.029,2.278,2.526,2.775,3.024,3.273,3.521],"range":["#F2F2F2","#F1D7D3","#EFC2B3","#EDB594","#ECB176","#EAB358","#E9BD3A","#E7CE1D","#E6E600","#BDDC00","#97D300","#73CA00","#53C100","#35B800","#19AF00","#00A600"]}}}},{"data":{"name":"coast"},"mark":{"type":"line","color":"black","strokeWidth":2.5,"clip":true},"encoding":{"detail":{"field":"s"},"order":{"field":"i"}}}]},
{"width":9,"height":1,"data":{"values":[{}]},"mark":{"type":"point","opacity":0},"encoding":{}},
{"view":{"stroke":"#555"},"width":25,"height":131,"data":{"name":"bb"},"mark":"rect","encoding":{"y":{"field":"lo","type":"quantitative","scale":{"domain":[-0.21,3.77],"nice":false},"axis":{"orient":"right","values":[0,0.5,1,1.5,2,2.5,3,3.5],"format":".1f","domain":false,"tickSize":6,"tickColor":"#555","labelFontSize":18,"labelPadding":5,"title":null}},"y2":{"field":"hi"},"color":{"field":"lo","type":"quantitative","legend":null,"scale":{"type":"threshold","domain":[0.039,0.288,0.536,0.785,1.034,1.283,1.531,1.78,2.029,2.278,2.526,2.775,3.024,3.273,3.521],"range":["#F2F2F2","#F1D7D3","#EFC2B3","#EDB594","#ECB176","#EAB358","#E9BD3A","#E7CE1D","#E6E600","#BDDC00","#97D300","#73CA00","#53C100","#35B800","#19AF00","#00A600"]}}}},
{"width":64,"height":1,"data":{"values":[{}]},"mark":{"type":"point","opacity":0},"encoding":{}},
{"view":{"stroke":"#555"},"width":230,"height":131,"resolve":{"scale":{"x":"independent","y":"independent"}},"encoding":{"x":{"field":"x","type":"quantitative","scale":{"domain":[12,752],"nice":false},"axis":null},"y":{"field":"y","type":"quantitative","scale":{"domain":[432,14],"nice":false},"axis":null}},"layer":[{"data":{"name":"coast"},"transform":[{"filter":"datum.s=='main'"}],"mark":{"type":"line","fill":"#f2f2f2","stroke":null},"encoding":{"order":{"field":"i"}}},{"data":{"name":"cb"},"transform":[{"filter":"!datum.p||indexof(datum.p,'3')>=0"}],"mark":{"type":"rect","width":2.9,"height":2.9},"encoding":{"x":{"field":"x","type":"quantitative","scale":{"domain":[58,746],"nice":false},"axis":null},"y":{"field":"y","type":"quantitative","scale":{"domain":[463,75],"nice":false},"axis":null},"color":{"field":"v","type":"quantitative","legend":null,"scale":{"type":"threshold","domain":[0.039,0.288,0.536,0.785,1.034,1.283,1.531,1.78,2.029,2.278,2.526,2.775,3.024,3.273,3.521],"range":["#F2F2F2","#F1D7D3","#EFC2B3","#EDB594","#ECB176","#EAB358","#E9BD3A","#E7CE1D","#E6E600","#BDDC00","#97D300","#73CA00","#53C100","#35B800","#19AF00","#00A600"]}}}},{"data":{"name":"coast"},"mark":{"type":"line","color":"black","strokeWidth":2.5,"clip":true},"encoding":{"detail":{"field":"s"},"order":{"field":"i"}}}]},
{"width":8,"height":1,"data":{"values":[{}]},"mark":{"type":"point","opacity":0},"encoding":{}},
{"view":{"stroke":"#555"},"width":25,"height":131,"data":{"name":"bb"},"mark":"rect","encoding":{"y":{"field":"lo","type":"quantitative","scale":{"domain":[-0.21,3.77],"nice":false},"axis":{"orient":"right","values":[0,0.5,1,1.5,2,2.5,3,3.5],"format":".1f","domain":false,"tickSize":6,"tickColor":"#555","labelFontSize":18,"labelPadding":5,"title":"B-maxCoverage","titleFontSize":19.5,"titleFontStyle":"italic","titleAngle":270,"titlePadding":36}},"y2":{"field":"hi"},"color":{"field":"lo","type":"quantitative","legend":null,"scale":{"type":"threshold","domain":[0.039,0.288,0.536,0.785,1.034,1.283,1.531,1.78,2.029,2.278,2.526,2.775,3.024,3.273,3.521],"range":["#F2F2F2","#F1D7D3","#EFC2B3","#EDB594","#ECB176","#EAB358","#E9BD3A","#E7CE1D","#E6E600","#BDDC00","#97D300","#73CA00","#53C100","#35B800","#19AF00","#00A600"]}}}}
]}
]},
{"spacing":0,"bounds":"flush","hconcat":[
{"width":1,"height":1,"data":{"values":[{}]},"mark":{"type":"point","opacity":0},"encoding":{}},
{"view":{"stroke":"#555"},"width":247,"height":140,"resolve":{"scale":{"x":"independent","y":"independent"}},"encoding":{"x":{"field":"x","type":"quantitative","scale":{"domain":[12,752],"nice":false},"axis":null},"y":{"field":"y","type":"quantitative","scale":{"domain":[432,14],"nice":false},"axis":null}},"layer":[{"data":{"name":"coast"},"transform":[{"filter":"datum.s=='main'"}],"mark":{"type":"line","fill":"#f2f2f2","stroke":null},"encoding":{"order":{"field":"i"}}},{"data":{"name":"cc"},"transform":[{"filter":"!datum.p||indexof(datum.p,'0')>=0"}],"mark":{"type":"rect","width":3,"height":3},"encoding":{"x":{"field":"x","type":"quantitative","scale":{"domain":[8,748],"nice":false},"axis":null},"y":{"field":"y","type":"quantitative","scale":{"domain":[490,72],"nice":false},"axis":null},"color":{"field":"v","type":"quantitative","legend":null,"scale":{"type":"threshold","domain":[0.044,0.538,1.031,1.525,2.019,2.513,3.006,3.5,3.994,4.488,4.981,5.475,5.969,6.463,6.956],"range":["#F2F2F2","#F1D7D3","#EFC2B3","#EDB594","#ECB176","#EAB358","#E9BD3A","#E7CE1D","#E6E600","#BDDC00","#97D300","#73CA00","#53C100","#35B800","#19AF00","#00A600"]}}}},{"data":{"name":"coast"},"mark":{"type":"line","color":"black","strokeWidth":2.5,"clip":true},"encoding":{"detail":{"field":"s"},"order":{"field":"i"}}},{"data":{"values":[{"x":18,"y":-28,"t":"(c)"}]},"mark":{"type":"text","fontSize":19,"fontWeight":"bold","align":"left","baseline":"middle"},"encoding":{"text":{"field":"t"}}}]},
{"width":7,"height":1,"data":{"values":[{}]},"mark":{"type":"point","opacity":0},"encoding":{}},
{"view":{"stroke":"#555"},"width":25,"height":140,"data":{"name":"bc"},"mark":"rect","encoding":{"y":{"field":"lo","type":"quantitative","scale":{"domain":[-0.45,7.45],"nice":false},"axis":{"orient":"right","values":[0,1,2,3,4,5,6,7],"domain":false,"tickSize":6,"tickColor":"#555","labelFontSize":20,"labelPadding":5,"title":null}},"y2":{"field":"hi"},"color":{"field":"lo","type":"quantitative","legend":null,"scale":{"type":"threshold","domain":[0.044,0.538,1.031,1.525,2.019,2.513,3.006,3.5,3.994,4.488,4.981,5.475,5.969,6.463,6.956],"range":["#F2F2F2","#F1D7D3","#EFC2B3","#EDB594","#ECB176","#EAB358","#E9BD3A","#E7CE1D","#E6E600","#BDDC00","#97D300","#73CA00","#53C100","#35B800","#19AF00","#00A600"]}}}},
{"width":47,"height":1,"data":{"values":[{}]},"mark":{"type":"point","opacity":0},"encoding":{}},
{"view":{"stroke":"#555"},"width":247,"height":140,"resolve":{"scale":{"x":"independent","y":"independent"}},"encoding":{"x":{"field":"x","type":"quantitative","scale":{"domain":[12,752],"nice":false},"axis":null},"y":{"field":"y","type":"quantitative","scale":{"domain":[432,14],"nice":false},"axis":null}},"layer":[{"data":{"name":"coast"},"transform":[{"filter":"datum.s=='main'"}],"mark":{"type":"line","fill":"#f2f2f2","stroke":null},"encoding":{"order":{"field":"i"}}},{"data":{"name":"cc"},"transform":[{"filter":"!datum.p||indexof(datum.p,'1')>=0"}],"mark":{"type":"rect","width":3,"height":3},"encoding":{"x":{"field":"x","type":"quantitative","scale":{"domain":[8,748],"nice":false},"axis":null},"y":{"field":"y","type":"quantitative","scale":{"domain":[490,72],"nice":false},"axis":null},"color":{"field":"v","type":"quantitative","legend":null,"scale":{"type":"threshold","domain":[0.044,0.538,1.031,1.525,2.019,2.513,3.006,3.5,3.994,4.488,4.981,5.475,5.969,6.463,6.956],"range":["#F2F2F2","#F1D7D3","#EFC2B3","#EDB594","#ECB176","#EAB358","#E9BD3A","#E7CE1D","#E6E600","#BDDC00","#97D300","#73CA00","#53C100","#35B800","#19AF00","#00A600"]}}}},{"data":{"name":"coast"},"mark":{"type":"line","color":"black","strokeWidth":2.5,"clip":true},"encoding":{"detail":{"field":"s"},"order":{"field":"i"}}}]},
{"width":8,"height":1,"data":{"values":[{}]},"mark":{"type":"point","opacity":0},"encoding":{}},
{"view":{"stroke":"#555"},"width":25,"height":140,"data":{"name":"bc"},"mark":"rect","encoding":{"y":{"field":"lo","type":"quantitative","scale":{"domain":[-0.45,7.45],"nice":false},"axis":{"orient":"right","values":[0,1,2,3,4,5,6,7],"domain":false,"tickSize":6,"tickColor":"#555","labelFontSize":20,"labelPadding":5,"title":null}},"y2":{"field":"hi"},"color":{"field":"lo","type":"quantitative","legend":null,"scale":{"type":"threshold","domain":[0.044,0.538,1.031,1.525,2.019,2.513,3.006,3.5,3.994,4.488,4.981,5.475,5.969,6.463,6.956],"range":["#F2F2F2","#F1D7D3","#EFC2B3","#EDB594","#ECB176","#EAB358","#E9BD3A","#E7CE1D","#E6E600","#BDDC00","#97D300","#73CA00","#53C100","#35B800","#19AF00","#00A600"]}}}},
{"width":46,"height":1,"data":{"values":[{}]},"mark":{"type":"point","opacity":0},"encoding":{}},
{"view":{"stroke":"#555"},"width":247,"height":140,"resolve":{"scale":{"x":"independent","y":"independent"}},"encoding":{"x":{"field":"x","type":"quantitative","scale":{"domain":[12,752],"nice":false},"axis":null},"y":{"field":"y","type":"quantitative","scale":{"domain":[432,14],"nice":false},"axis":null}},"layer":[{"data":{"name":"coast"},"transform":[{"filter":"datum.s=='main'"}],"mark":{"type":"line","fill":"#f2f2f2","stroke":null},"encoding":{"order":{"field":"i"}}},{"data":{"name":"cc"},"transform":[{"filter":"!datum.p||indexof(datum.p,'2')>=0"}],"mark":{"type":"rect","width":3,"height":3},"encoding":{"x":{"field":"x","type":"quantitative","scale":{"domain":[8,748],"nice":false},"axis":null},"y":{"field":"y","type":"quantitative","scale":{"domain":[490,72],"nice":false},"axis":null},"color":{"field":"v","type":"quantitative","legend":null,"scale":{"type":"threshold","domain":[0.044,0.538,1.031,1.525,2.019,2.513,3.006,3.5,3.994,4.488,4.981,5.475,5.969,6.463,6.956],"range":["#F2F2F2","#F1D7D3","#EFC2B3","#EDB594","#ECB176","#EAB358","#E9BD3A","#E7CE1D","#E6E600","#BDDC00","#97D300","#73CA00","#53C100","#35B800","#19AF00","#00A600"]}}}},{"data":{"name":"coast"},"mark":{"type":"line","color":"black","strokeWidth":2.5,"clip":true},"encoding":{"detail":{"field":"s"},"order":{"field":"i"}}}]},
{"width":9,"height":1,"data":{"values":[{}]},"mark":{"type":"point","opacity":0},"encoding":{}},
{"view":{"stroke":"#555"},"width":25,"height":140,"data":{"name":"bc"},"mark":"rect","encoding":{"y":{"field":"lo","type":"quantitative","scale":{"domain":[-0.45,7.45],"nice":false},"axis":{"orient":"right","values":[0,1,2,3,4,5,6,7],"domain":false,"tickSize":6,"tickColor":"#555","labelFontSize":20,"labelPadding":5,"title":null}},"y2":{"field":"hi"},"color":{"field":"lo","type":"quantitative","legend":null,"scale":{"type":"threshold","domain":[0.044,0.538,1.031,1.525,2.019,2.513,3.006,3.5,3.994,4.488,4.981,5.475,5.969,6.463,6.956],"range":["#F2F2F2","#F1D7D3","#EFC2B3","#EDB594","#ECB176","#EAB358","#E9BD3A","#E7CE1D","#E6E600","#BDDC00","#97D300","#73CA00","#53C100","#35B800","#19AF00","#00A600"]}}}},
{"width":46,"height":1,"data":{"values":[{}]},"mark":{"type":"point","opacity":0},"encoding":{}},
{"view":{"stroke":"#555"},"width":247,"height":140,"resolve":{"scale":{"x":"independent","y":"independent"}},"encoding":{"x":{"field":"x","type":"quantitative","scale":{"domain":[12,752],"nice":false},"axis":null},"y":{"field":"y","type":"quantitative","scale":{"domain":[432,14],"nice":false},"axis":null}},"layer":[{"data":{"name":"coast"},"transform":[{"filter":"datum.s=='main'"}],"mark":{"type":"line","fill":"#f2f2f2","stroke":null},"encoding":{"order":{"field":"i"}}},{"data":{"name":"cc"},"transform":[{"filter":"!datum.p||indexof(datum.p,'3')>=0"}],"mark":{"type":"rect","width":3,"height":3},"encoding":{"x":{"field":"x","type":"quantitative","scale":{"domain":[8,748],"nice":false},"axis":null},"y":{"field":"y","type":"quantitative","scale":{"domain":[490,72],"nice":false},"axis":null},"color":{"field":"v","type":"quantitative","legend":null,"scale":{"type":"threshold","domain":[0.044,0.538,1.031,1.525,2.019,2.513,3.006,3.5,3.994,4.488,4.981,5.475,5.969,6.463,6.956],"range":["#F2F2F2","#F1D7D3","#EFC2B3","#EDB594","#ECB176","#EAB358","#E9BD3A","#E7CE1D","#E6E600","#BDDC00","#97D300","#73CA00","#53C100","#35B800","#19AF00","#00A600"]}}}},{"data":{"name":"coast"},"mark":{"type":"line","color":"black","strokeWidth":2.5,"clip":true},"encoding":{"detail":{"field":"s"},"order":{"field":"i"}}}]},
{"width":9,"height":1,"data":{"values":[{}]},"mark":{"type":"point","opacity":0},"encoding":{}},
{"view":{"stroke":"#555"},"width":25,"height":140,"data":{"name":"bc"},"mark":"rect","encoding":{"y":{"field":"lo","type":"quantitative","scale":{"domain":[-0.45,7.45],"nice":false},"axis":{"orient":"right","values":[0,1,2,3,4,5,6,7],"domain":false,"tickSize":6,"tickColor":"#555","labelFontSize":20,"labelPadding":5,"title":"BK-minShortfall","titleFontSize":19.5,"titleFontStyle":"italic","titleAngle":270,"titlePadding":51}},"y2":{"field":"hi"},"color":{"field":"lo","type":"quantitative","legend":null,"scale":{"type":"threshold","domain":[0.044,0.538,1.031,1.525,2.019,2.513,3.006,3.5,3.994,4.488,4.981,5.475,5.969,6.463,6.956],"range":["#F2F2F2","#F1D7D3","#EFC2B3","#EDB594","#ECB176","#EAB358","#E9BD3A","#E7CE1D","#E6E600","#BDDC00","#97D300","#73CA00","#53C100","#35B800","#19AF00","#00A600"]}}}}
]}
]},
{"width":1,"height":36,"data":{"values":[{}]},"mark":{"type":"point","opacity":0},"encoding":{}},
{"spacing":0,"bounds":"flush","hconcat":[
{"width":183,"height":1,"data":{"values":[{}]},"mark":{"type":"point","opacity":0},"encoding":{}},
{"width":187,"height":292,"resolve":{"axis":{"x":"independent","y":"independent"}},"layer":[{"data":{"name":"hd"},"mark":{"type":"rect","fill":"#bebebe","stroke":"#333","strokeWidth":1},"encoding":{"x":{"field":"lo","type":"quantitative","scale":{"domain":[0,10],"nice":false},"axis":{"values":[0,2,4,6,8,10],"offset":1,"labelOverlap":false,"labelBound":false,"labelFlush":false,"tickSize":8,"tickColor":"black","domainColor":"black","labelFontSize":18,"labelPadding":13,"title":"Number of species","titleFontSize":19,"titlePadding":7,"titleX":88}},"x2":{"field":"hi"},"y":{"field":"n","type":"quantitative","scale":{"domain":[0,60],"range":[292,71],"nice":false},"axis":{"values":[0,20,40,60],"offset":8,"tickSize":8,"tickColor":"black","domainColor":"black","labelFontSize":18,"labelPadding":8,"title":"Number of sites","titleFontSize":24,"titlePadding":14}},"y2":{"datum":0}}},{"data":{"values":[{"lo":-2.83,"n":86.3,"t":"(d)"}]},"mark":{"type":"text","fontSize":19,"fontWeight":"bold"},"encoding":{"x":{"field":"lo","type":"quantitative","axis":null},"y":{"field":"n","type":"quantitative","axis":null},"text":{"field":"t"}}},{"data":{"values":[{"lo":5.51,"n":86.3,"t":"K-minCost"}]},"mark":{"type":"text","fontSize":26,"fontStyle":"italic"},"encoding":{"x":{"field":"lo","type":"quantitative","axis":null},"y":{"field":"n","type":"quantitative","axis":null},"text":{"field":"t"}}}]},
{"width":224,"height":1,"data":{"values":[{}]},"mark":{"type":"point","opacity":0},"encoding":{}},
{"width":187,"height":292,"resolve":{"axis":{"x":"independent","y":"independent"}},"layer":[{"data":{"name":"he"},"mark":{"type":"rect","fill":"#bebebe","stroke":"#333","strokeWidth":1},"encoding":{"x":{"field":"lo","type":"quantitative","scale":{"domain":[0,10],"nice":false},"axis":{"values":[0,2,4,6,8,10],"offset":-1,"labelOverlap":false,"labelBound":false,"labelFlush":false,"tickSize":8,"tickColor":"black","domainColor":"black","labelFontSize":18,"labelPadding":13,"title":"Number of species","titleFontSize":19,"titlePadding":7}},"x2":{"field":"hi"},"y":{"field":"n","type":"quantitative","scale":{"domain":[0,250],"range":[290,33],"nice":false},"axis":{"values":[0,50,100,150,200,250],"offset":8,"tickSize":8,"tickColor":"black","domainColor":"black","labelFontSize":18,"labelPadding":8,"title":"Number of sites","titleFontSize":24,"titlePadding":13}},"y2":{"datum":0}}},{"data":{"values":[{"lo":-3.48,"n":307,"t":"(e)"}]},"mark":{"type":"text","fontSize":19,"fontWeight":"bold"},"encoding":{"x":{"field":"lo","type":"quantitative","axis":null},"y":{"field":"n","type":"quantitative","axis":null},"text":{"field":"t"}}},{"data":{"values":[{"lo":7.17,"n":307,"t":"B-maxCoverage"}]},"mark":{"type":"text","fontSize":26,"fontStyle":"italic"},"encoding":{"x":{"field":"lo","type":"quantitative","axis":null},"y":{"field":"n","type":"quantitative","axis":null},"text":{"field":"t"}}}]},
{"width":213,"height":1,"data":{"values":[{}]},"mark":{"type":"point","opacity":0},"encoding":{}},
{"width":187,"height":292,"resolve":{"axis":{"x":"independent","y":"independent"}},"layer":[{"data":{"name":"hf"},"mark":{"type":"rect","fill":"#bebebe","stroke":"#333","strokeWidth":1},"encoding":{"x":{"field":"lo","type":"quantitative","scale":{"domain":[0,10],"nice":false},"axis":{"values":[0,2,4,6,8,10],"offset":-1,"labelOverlap":false,"labelBound":false,"labelFlush":false,"tickSize":8,"tickColor":"black","domainColor":"black","labelFontSize":18,"labelPadding":13,"title":"Number of species","titleFontSize":19,"titlePadding":7,"titleX":99}},"x2":{"field":"hi"},"y":{"field":"n","type":"quantitative","scale":{"domain":[0,140],"range":[290,2],"nice":false},"axis":{"values":[0,20,40,60,80,100,120,140],"offset":8,"tickSize":8,"tickColor":"black","domainColor":"black","labelFontSize":18,"labelPadding":8,"title":"Number of sites","titleFontSize":24,"titlePadding":12}},"y2":{"datum":0}}},{"data":{"values":[{"lo":-3.55,"n":153.6,"t":"(f)"}]},"mark":{"type":"text","fontSize":19,"fontWeight":"bold"},"encoding":{"x":{"field":"lo","type":"quantitative","axis":null},"y":{"field":"n","type":"quantitative","axis":null},"text":{"field":"t"}}},{"data":{"values":[{"lo":6.42,"n":153.6,"t":"BK-MinShortfall"}]},"mark":{"type":"text","fontSize":26,"fontStyle":"italic"},"encoding":{"x":{"field":"lo","type":"quantitative","axis":null},"y":{"field":"n","type":"quantitative","axis":null},"text":{"field":"t"}}}]}
]}
]}
